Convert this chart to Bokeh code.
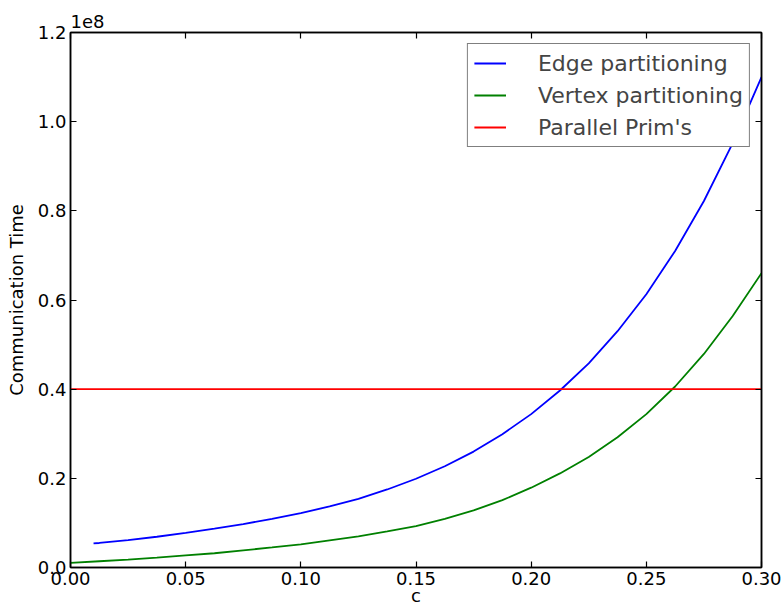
from bokeh.plotting import figure
from bokeh.models import (LinearAxis, FixedTicker, CustomJSTickFormatter, Legend,
                          LegendItem, Range1d, PrintfTickFormatter)
from bokeh.embed import file_html
from bokeh.resources import INLINE

# ---- data ----
edge_c = [0.01, 0.0125, 0.025, 0.0375, 0.05, 0.0625, 0.075, 0.0875, 0.10, 0.1125,
          0.125, 0.1375, 0.15, 0.1625, 0.175, 0.1875, 0.20, 0.2125, 0.225, 0.2375,
          0.25, 0.2625, 0.275, 0.2875, 0.30]
edge_t = [5.4e6, 5.5e6, 6.15e6, 6.9e6, 7.75e6, 8.7e6, 9.75e6, 10.9e6, 12.2e6, 13.7e6,
          15.4e6, 17.5e6, 19.9e6, 22.7e6, 26.0e6, 29.9e6, 34.4e6, 39.7e6, 45.8e6, 53.0e6,
          61.3e6, 71.0e6, 82.2e6, 95.2e6, 110.0e6]

vertex_c = [0.0, 0.0125, 0.025, 0.0375, 0.05, 0.0625, 0.075, 0.0875, 0.10, 0.1125,
            0.125, 0.1375, 0.15, 0.1625, 0.175, 0.1875, 0.20, 0.2125, 0.225, 0.2375,
            0.25, 0.2625, 0.275, 0.2875, 0.30]
vertex_t = [1.05e6, 1.4e6, 1.75e6, 2.2e6, 2.7e6, 3.2e6, 3.85e6, 4.5e6, 5.2e6, 6.1e6,
            7.0e6, 8.1e6, 9.3e6, 10.9e6, 12.8e6, 15.1e6, 17.9e6, 21.1e6, 24.8e6, 29.2e6,
            34.4e6, 40.6e6, 47.9e6, 56.4e6, 66.0e6]

prim_c = [0.0, 0.30]
prim_t = [4.0e7, 4.0e7]

x_ticks = [0.0, 0.05, 0.10, 0.15, 0.20, 0.25, 0.30]
y_ticks = [0.0, 2e7, 4e7, 6e7, 8e7, 1e8, 1.2e8]

FONT = "DejaVu Sans"
FS = "18px"

p = figure(width=783, height=610, output_backend="svg", toolbar_location=None,
           x_range=Range1d(0, 0.30), y_range=Range1d(0, 1.2e8),
           min_border_left=70, min_border_right=22, min_border_top=32,
           min_border_bottom=43, background_fill_color="white",
           border_fill_color="white")
p.xgrid.visible = False
p.ygrid.visible = False
p.outline_line_color = "black"
p.outline_line_width = 1.5

r1 = p.line(edge_c, edge_t, line_color="#0000ff", line_width=1.8)
r2 = p.line(vertex_c, vertex_t, line_color="#008000", line_width=1.8)
r3 = p.line(prim_c, prim_t, line_color="#ff0000", line_width=1.8)

def style(ax):
    ax.axis_line_color = "black"
    ax.axis_line_width = 1.5
    ax.major_tick_in = 6
    ax.major_tick_out = 0
    ax.major_tick_line_color = "black"
    ax.major_tick_line_width = 1.2
    ax.minor_tick_line_color = None
    ax.major_label_text_font = FONT
    ax.major_label_text_font_size = FS
    ax.major_label_text_color = "black"
    ax.axis_label_text_font = FONT
    ax.axis_label_text_font_size = FS
    ax.axis_label_text_font_style = "normal"
    ax.axis_label_text_color = "black"

xa = p.xaxis[0]
xa.ticker = FixedTicker(ticks=x_ticks)
xa.formatter = PrintfTickFormatter(format="%.2f")
xa.axis_label = "c"
style(xa)
xa.major_label_standoff = 4
xa.axis_label_standoff = -3

ya = p.yaxis[0]
ya.ticker = FixedTicker(ticks=y_ticks)
ya.formatter = CustomJSTickFormatter(code="return (tick/1e8).toFixed(1);")
ya.axis_label = "Communication Time"
style(ya)
ya.major_label_standoff = 4
ya.axis_label_standoff = 8

blank = CustomJSTickFormatter(code="return '';")
top = LinearAxis(ticker=FixedTicker(ticks=x_ticks), formatter=blank)
style(top)
top.major_label_text_font_size = "1px"
top.major_label_standoff = 0
p.add_layout(top, "above")
right = LinearAxis(ticker=FixedTicker(ticks=y_ticks), formatter=blank)
style(right)
right.major_label_text_font_size = "1px"
right.major_label_standoff = 0
p.add_layout(right, "right")

p.title.text = "1e8"
p.title.align = "left"
p.title.text_font = FONT
p.title.text_font_size = FS
p.title.text_font_style = "normal"
p.title.text_color = "black"
p.title.standoff = 9
p.title.offset = 0

legend = Legend(items=[LegendItem(label="Edge partitioning", renderers=[r1]),
                       LegendItem(label="Vertex partitioning", renderers=[r2]),
                       LegendItem(label="Parallel Prim's", renderers=[r3])],
                location="top_right", margin=11, padding=6, spacing=6,
                glyph_width=32, glyph_height=26, label_height=26,
                label_standoff=32, label_text_font=FONT, label_text_font_size="22px",
                border_line_color="black", border_line_width=1.2,
                background_fill_alpha=1.0)
p.add_layout(legend)

open("out.html", "w").write(file_html(p, INLINE))
